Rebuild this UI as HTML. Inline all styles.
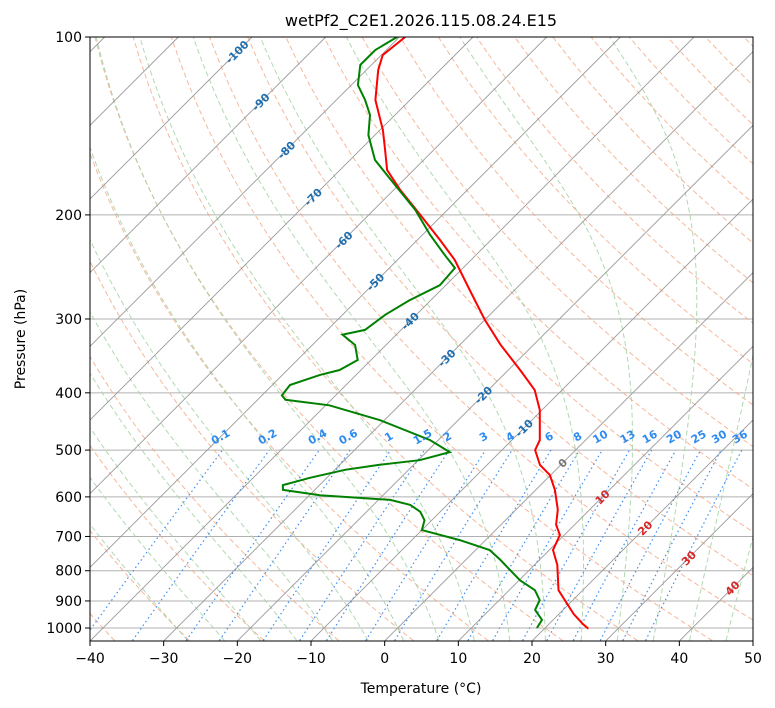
<!DOCTYPE html>
<html><head><meta charset="utf-8">
<style>
html,body{margin:0;padding:0;background:#fff;width:775px;height:708px;overflow:hidden;font-family:"Liberation Sans","DejaVu Sans",sans-serif;}
svg text{font-family:"DejaVu Sans","Liberation Sans",sans-serif;}
</style></head>
<body>
<svg id="chart" width="775" height="708" xmlns="http://www.w3.org/2000/svg">
<defs><clipPath id="clip"><rect x="90" y="37" width="663" height="604"/></clipPath></defs>
<text x="421" y="26" font-size="16" text-anchor="middle" fill="#000">wetPf2_C2E1.2026.115.08.24.E15</text>
<g id="bg" clip-path="url(#clip)"></g>
<g id="fg" clip-path="url(#clip)"></g>
<g id="axes"></g>
<text x="421" y="693" font-size="14" text-anchor="middle">Temperature (°C)</text>
<text transform="translate(25,339) rotate(-90)" font-size="14" text-anchor="middle">Pressure (hPa)</text>
</svg>
<script>
// ---- data ----
const tempPressure = [100,107.3,113.7,127.8,143.7,155.3,167.9,181.5,200,220.6,238.4,268,301,331.6,366,395.7,427.7,481,500,530,551,584,631,669,696,738,782,863,897,947,984.5,1003];
const tempValues = [-79.2,-79.8,-78.4,-74.7,-69.6,-66.6,-63.6,-59.1,-53,-46.9,-42.2,-36.1,-30,-24.5,-18.4,-13.7,-10.3,-6.2,-5.5,-2.8,-0.1,2.6,5.7,7.5,9.4,10.5,13.1,16.7,18.9,22,24.6,26];
const dewPressure = [100,105.2,111.5,120.6,127.8,135.5,146.5,161.5,178,196,216,234,246,263,279,295,313,319,332,352,366,373,388,404,411,420,445,481,504,520,530,540,557,573,584,596,607,619,636,657,683,710,738,767,798,830,863,897,932,969,1000];
const dewValues = [-80.3,-81.5,-81.5,-79.1,-76.1,-73.4,-70.9,-66.6,-60.5,-54.4,-49,-44.2,-41.1,-40.8,-42.9,-44.2,-44.9,-47.3,-44.2,-41.8,-42.9,-44.9,-47.6,-47.3,-46.2,-39.5,-30.6,-21.1,-16.8,-19.8,-24.8,-28.6,-32.3,-35,-34.3,-28.6,-18.4,-15,-12.7,-11,-10,-3.5,1.9,4.7,7.4,10.1,13.5,15.5,16.2,18.5,18.9,19.6];
const xTicks = [-40,-30,-20,-10,0,10,20,30,40,50];
const yTicks = [100,200,300,400,500,600,700,800,900,1000];
const mixingRatios = [0.1,0.2,0.4,0.6,1,1.5,2,3,4,6,8,10,13,16,20,25,30,36];
const isothermLabels = [-100,-90,-80,-70,-60,-50,-40,-30,-20,-10,0,10,20,30,40];
const isothermLabelPressure = [106,115,123,132,141,151,161,172,184,197,212,226,239,253,268];

// ---- axes ----
const X0=90,X1=753,Y0=37,YB=641,PX=663/90;
function py(p){return Y0+591*Math.log10(p/100);}
function px(T,p){return X0+(T+40)*PX+(YB-py(p));}
const NS="http://www.w3.org/2000/svg";
function mk(tag,attrs,parent){const e=document.createElementNS(NS,tag);for(const k in attrs)e.setAttribute(k,attrs[k]);parent.appendChild(e);return e;}
const bg=document.getElementById('bg'),fg=document.getElementById('fg'),ax=document.getElementById('axes');
function poly(pts,style,parent,name){
  const e=mk('polyline',Object.assign({points:pts.map(q=>q[0].toFixed(1)+','+q[1].toFixed(1)).join(' '),fill:'none'},style),parent);
  
  
  return e;
}
for(const p of yTicks){
  const l=mk('line',{x1:X0,x2:X1,y1:py(p),y2:py(p),stroke:'#b0b0b0','stroke-width':1},bg);
  
  
}
for(let th=-50;th<=200;th+=10){
  const pts=[];for(let p=1050;p>=100;p-=10){const T=(th+273.15)*Math.pow(p/1000,0.2857)-273.15;pts.push([px(T,p),py(p)]);}
  poly(pts,{stroke:'#f4a582','stroke-width':1,'stroke-dasharray':'5,3',opacity:0.8},bg,'dry-adiabat');
}
function es(Tc){return 6.112*Math.exp(17.67*Tc/(Tc+243.5));}
function dTdp(Tc,p){const T=Tc+273.15,e=es(Tc),rs=0.622*e/(p-e),Lv=2.5e6,Rd=287,cp=1005;
  return (Rd*T+Lv*rs)/(cp+Lv*Lv*rs*0.622/(Rd*T*T))/p;}
for(let t0=-30;t0<=45;t0+=5){
  const pts=[];let T=t0;
  let Tb=t0;for(let p=1000;p<1050;p+=2){Tb+=dTdp(Tb,p)*2;}
  pts.push([px(Tb,1050),py(1050)]);
  for(let p=1000;p>=100;p-=2){pts.push([px(T,p),py(p)]);T-=dTdp(T,p)*2;}
  poly(pts,{stroke:'#a9d4a9','stroke-width':1,'stroke-dasharray':'5,3',opacity:0.9},bg,'moist-adiabat');
}
for(let T=-160;T<=50;T+=10){
  const l=mk('line',{x1:px(T,1050),y1:py(1050),x2:px(T,100),y2:py(100),stroke:'#999','stroke-width':0.9},bg);
  
  
}
function tdw(w,p){const e=w*p/(622+w);const a=Math.log(e/6.112);return 243.5*a/(17.67-a);}
for(const w of mixingRatios){
  const pts=[];for(let p=1050;p>=500;p-=10)pts.push([px(tdw(w,p),p),py(p)]);
  poly(pts,{stroke:'#3d8ff0','stroke-width':1.2,'stroke-dasharray':'1.5,3'},bg,'mixing-ratio-line');
  const x=px(tdw(w,500),500),y=440;
  const t=mk('text',{x:x,y:y,'font-size':11,'font-weight':'bold',fill:'#2e8bf0','text-anchor':'middle',transform:`rotate(-30 ${x} ${y})`},ax);
  t.textContent=String(w);
  
  
}
const labYs=[52,102,150,197,240,282,321,358,395,428,463,497,528,558,588];
isothermLabels.forEach((T,i)=>{
  const y=labYs[i];const p=100*Math.pow(10,(y-Y0)/591);const x=px(T,p);
  const col=T<0?'#1f6fb0':(T===0?'#777':'#d62728');
  const t=mk('text',{x:x,y:y+4,'font-size':11,'font-weight':'bold',fill:col,'text-anchor':'middle',transform:`rotate(-45 ${x} ${y})`},ax);
  t.textContent=String(T);
  
  
});
poly(tempPressure.map((p,i)=>[px(tempValues[i],p),py(p)]),{stroke:'#ff0000','stroke-width':2},fg,'temperature-line');
poly(dewPressure.map((p,i)=>[px(dewValues[i],p),py(p)]),{stroke:'#008000','stroke-width':2},fg,'dewpoint-line');
const fr=mk('rect',{x:X0,y:Y0,width:X1-X0,height:YB-Y0,fill:'none',stroke:'#000','stroke-width':1},ax);


for(const T of xTicks){
  const x=X0+(T+40)*PX;
  mk('line',{x1:x,x2:x,y1:YB,y2:YB+5,stroke:'#000'},ax);
  const t=mk('text',{x:x,y:YB+22,'font-size':14,'text-anchor':'middle'},ax);
  t.textContent=(T<0?'\u2212'+(-T):String(T));
  
  
}
for(const p of yTicks){
  const y=py(p);
  mk('line',{x1:X0-5,x2:X0,y1:y,y2:y,stroke:'#000'},ax);
  const t=mk('text',{x:X0-8,y:y+5,'font-size':14,'text-anchor':'end'},ax);
  t.textContent=String(p);
  
  
}
</script>
</body></html>
